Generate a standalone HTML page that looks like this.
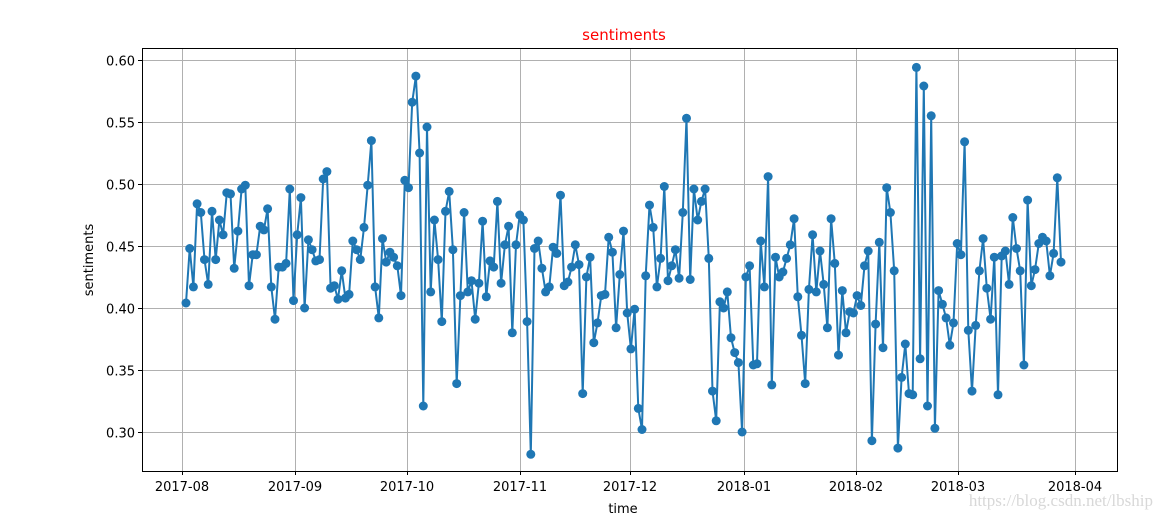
<!DOCTYPE html>
<html><head><meta charset="utf-8"><style>
html,body{margin:0;padding:0;background:#fff;}
svg{display:block;font-family:"DejaVu Sans","Liberation Sans",sans-serif;}
</style></head><body>
<svg id="s" width="1164" height="520" xmlns="http://www.w3.org/2000/svg">
<rect width="1164" height="520" fill="#fff"/>
<g id="grid" stroke="#b0b0b0" stroke-width="1"></g>
<g id="ticks" font-size="13" fill="#000"></g>
<polyline id="ln" fill="none" stroke="#1f77b4" stroke-width="2"/>
<g id="mk" fill="#1f77b4"></g>
<rect x="142.5" y="48.5" width="975" height="423" fill="none" stroke="#000" stroke-width="1"/>
<text x="624" y="40" font-size="15" fill="#ff0000" text-anchor="middle">sentiments</text>
<text x="623" y="513" font-size="13" text-anchor="middle">time</text>
<text transform="translate(93,260) rotate(-90)" font-size="13" text-anchor="middle">sentiments</text>
<text x="1153" y="506" font-size="17" fill="#d8d8d8" text-anchor="end" font-family="Liberation Serif,serif">https://blog.csdn.net/lbship</text>
</svg>
<script>
var NS="http://www.w3.org/2000/svg";
function el(t,a,p,txt){var e=document.createElementNS(NS,t);for(var k in a)e.setAttribute(k,a[k]);if(txt)e.textContent=txt;document.getElementById(p).appendChild(e);}
function Y(v){return 60+(0.60-v)/0.05*62;}
var xt=[[182,"2017-08"],[295,"2017-09"],[407,"2017-10"],[520,"2017-11"],[630,"2017-12"],[744,"2018-01"],[856,"2018-02"],[958,"2018-03"],[1075,"2018-04"]];
xt.forEach(function(t){el("line",{x1:t[0]+.5,x2:t[0]+.5,y1:48,y2:471},"grid");el("line",{x1:t[0]+.5,x2:t[0]+.5,y1:471,y2:475,stroke:"#000"},"grid");el("text",{x:t[0],y:491,"text-anchor":"middle"},"ticks",t[1]);});
[0.30,0.35,0.40,0.45,0.50,0.55,0.60].forEach(function(v){var y=Math.round(Y(v))+.5;el("line",{x1:142,x2:1117,y1:y,y2:y},"grid");el("line",{x1:138,x2:142,y1:y,y2:y,stroke:"#000"},"grid");el("text",{x:135,y:y+5,"text-anchor":"end"},"ticks",v.toFixed(2));});
var V=[0.404,0.448,0.417,0.484,0.477,0.439,0.419,0.478,0.439,0.471,0.459,0.493,0.492,0.432,0.462,0.496,0.499,0.418,0.443,0.443,0.466,0.463,0.480,0.417,0.391,0.433,0.433,0.436,0.496,0.406,0.459,
0.489,0.400,0.455,0.447,0.438,0.439,0.504,0.510,0.416,0.418,0.407,0.430,0.408,0.411,0.454,0.447,0.439,0.465,0.499,0.535,0.417,0.392,0.456,0.437,0.445,0.441,0.434,0.410,0.503,0.497,
0.566,0.587,0.525,0.321,0.546,0.413,0.471,0.439,0.389,0.478,0.494,0.447,0.339,0.410,0.477,0.413,0.422,0.391,0.420,0.470,0.409,0.438,0.433,0.486,0.420,0.451,0.466,0.380,0.451,0.475,0.471,
0.389,0.282,0.448,0.454,0.432,0.413,0.417,0.449,0.444,0.491,0.418,0.421,0.433,0.451,0.435,0.331,0.425,0.441,0.372,0.388,0.410,0.411,0.457,0.445,0.384,0.427,0.462,0.396,0.367,0.399,
0.319,0.302,0.426,0.483,0.465,0.417,0.440,0.498,0.422,0.434,0.447,0.424,0.477,0.553,0.423,0.496,0.471,0.486,0.496,0.440,0.333,0.309,0.405,0.400,0.413,0.376,0.364,0.356,0.300,0.425,0.434,
0.354,0.355,0.454,0.417,0.506,0.338,0.441,0.425,0.429,0.440,0.451,0.472,0.409,0.378,0.339,0.415,0.459,0.413,0.446,0.419,0.384,0.472,0.436,0.362,0.414,0.380,0.397,0.396,0.410,0.402,0.434,
0.446,0.293,0.387,0.453,0.368,0.497,0.477,0.430,0.287,0.344,0.371,0.331,0.330,0.594,0.359,0.579,0.321,0.555,0.303,0.414,0.403,0.392,0.370,0.388,0.452,0.443,0.534,0.382,
0.333,0.386,0.430,0.456,0.416,0.391,0.441,0.330,0.442,0.446,0.419,0.473,0.448,0.430,0.354,0.487,0.418,0.431,0.452,0.457,0.454,0.426,0.444,0.505,0.437];
var n=V.length,pts=[];
V.forEach(function(v,i){pts.push([186+i*(1061-186)/(n-1),Y(v)]);});
document.getElementById("ln").setAttribute("points",pts.map(function(p){return p[0].toFixed(1)+","+p[1].toFixed(1);}).join(" "));
pts.forEach(function(p){el("circle",{cx:p[0].toFixed(1),cy:p[1].toFixed(1),r:4.5},"mk");});
</script>
</body></html>
